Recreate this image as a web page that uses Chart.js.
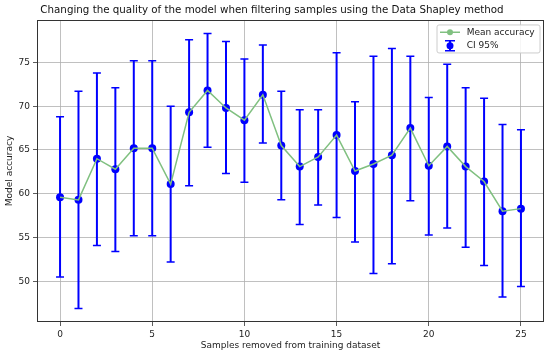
<!DOCTYPE html>
<html>
<head>
<meta charset="utf-8">
<script src="https://cdn.jsdelivr.net/npm/chart.js@4.4.0/dist/chart.umd.min.js"></script>
<style>
  html, body { margin: 0; padding: 0; background: #fff; }
  #wrap { width: 550px; height: 355px; }
</style>
</head>
<body>
<div id="wrap"><canvas id="chart"></canvas></div>
<script>
const samplesRemoved = [0, 1, 2, 3, 4, 5, 6, 7, 8, 9, 10, 11, 12, 13, 14, 15, 16, 17, 18, 19, 20, 21, 22, 23, 24, 25];
const meanAccuracy = [59.6, 59.3, 64.0, 62.8, 65.2, 65.2, 61.1, 69.3, 71.8, 69.8, 68.4, 71.3, 65.5, 63.1, 64.2, 66.7, 62.6, 63.4, 64.4, 67.5, 63.2, 65.4, 63.1, 61.4, 58.0, 58.3];
const ciLower = [50.5, 46.9, 54.1, 53.4, 55.2, 55.2, 52.2, 60.9, 65.3, 62.3, 61.3, 65.8, 59.3, 56.5, 58.7, 57.3, 54.5, 50.9, 52.0, 59.2, 55.3, 56.1, 53.9, 51.8, 48.2, 49.4];
const ciUpper = [68.8, 71.7, 73.8, 72.1, 75.2, 75.2, 70.0, 77.6, 78.3, 77.4, 75.4, 77.0, 71.7, 69.6, 69.6, 76.1, 70.5, 75.7, 76.6, 75.7, 71.0, 74.8, 72.1, 70.9, 67.9, 67.3];
const xTicks = [0, 5, 10, 15, 20, 25];
const yTicks = [50, 55, 60, 65, 70, 75];
const seriesLabels = ['Mean accuracy', 'CI 95%'];

const lineColor = '#80c080';
const dotColor = '#0000ff';

Chart.defaults.font.family = "'DejaVu Sans', sans-serif";
Chart.defaults.color = '#222';

const points = samplesRemoved.map((s, i) => ({ x: s, y: meanAccuracy[i] }));

// frame around the plot area (all four sides)
const frame = {
    id: 'frame',
    beforeDatasetsDraw(chart) {
        const { ctx, chartArea: a } = chart;
        ctx.save();
        ctx.strokeStyle = '#333';
        ctx.lineWidth = 1;
        ctx.strokeRect(Math.round(a.left) + 0.5, Math.round(a.top) + 0.5,
            Math.round(a.right - a.left) - 1, Math.round(a.bottom - a.top) - 1);
        ctx.restore();
    }
};

// vertical CI bars with caps, drawn just before the blue dots
const errorBars = {
    id: 'errorBars',
    beforeDatasetDraw(chart, args) {
        if (args.index !== 1) return;
        const { ctx, scales: { x, y } } = chart;
        ctx.save();
        ctx.strokeStyle = dotColor;
        samplesRemoved.forEach((s, i) => {
            const px = x.getPixelForValue(s);
            const top = y.getPixelForValue(ciUpper[i]);
            const bot = y.getPixelForValue(ciLower[i]);
            ctx.lineWidth = 2;
            ctx.beginPath();
            ctx.moveTo(px, top);
            ctx.lineTo(px, bot);
            ctx.stroke();
            ctx.lineWidth = 1.5;
            ctx.beginPath();
            ctx.moveTo(px - 4, top); ctx.lineTo(px + 4, top);
            ctx.moveTo(px - 4, bot); ctx.lineTo(px + 4, bot);
            ctx.stroke();
        });
        ctx.restore();
    }
};

// matplotlib style legend box in the upper right
const legendBox = {
    id: 'legendBox',
    afterDraw(chart) {
        const { ctx, chartArea: a } = chart;
        const w = 103, h = 28;
        const bx = a.right - 4 - w, by = a.top + 5;
        ctx.save();
        ctx.fillStyle = 'rgba(255,255,255,0.85)';
        ctx.strokeStyle = '#cccccc';
        ctx.lineWidth = 1;
        ctx.beginPath();
        ctx.roundRect(bx, by, w, h, 2);
        ctx.fill();
        ctx.stroke();

        // Mean accuracy
        const y1 = by + 7.3;
        ctx.strokeStyle = lineColor;
        ctx.lineWidth = 1.5;
        ctx.beginPath();
        ctx.moveTo(bx + 3, y1);
        ctx.lineTo(bx + 23, y1);
        ctx.stroke();
        ctx.fillStyle = lineColor;
        ctx.beginPath();
        ctx.arc(bx + 13, y1, 3, 0, Math.PI * 2);
        ctx.fill();

        // CI 95%
        const y2 = by + 20.7;
        const cx = bx + 13;
        ctx.strokeStyle = dotColor;
        ctx.lineWidth = 2;
        ctx.beginPath();
        ctx.moveTo(cx, y2 - 5); ctx.lineTo(cx, y2 + 5);
        ctx.stroke();
        ctx.lineWidth = 1.5;
        ctx.beginPath();
        ctx.moveTo(cx - 5, y2 - 5); ctx.lineTo(cx + 5, y2 - 5);
        ctx.moveTo(cx - 5, y2 + 5); ctx.lineTo(cx + 5, y2 + 5);
        ctx.stroke();
        ctx.fillStyle = dotColor;
        ctx.beginPath();
        ctx.arc(cx, y2, 3.5, 0, Math.PI * 2);
        ctx.fill();

        ctx.fillStyle = '#222';
        ctx.font = "9px 'DejaVu Sans'";
        ctx.textBaseline = 'middle';
        ctx.fillText(seriesLabels[0], bx + 29.7, y1);
        ctx.fillText(seriesLabels[1], bx + 29.7, y2);
        ctx.restore();
    }
};

new Chart(document.getElementById('chart'), {
    type: 'scatter',
    data: {
        datasets: [{
            label: seriesLabels[0],
            data: points,
            showLine: true,
            borderColor: lineColor,
            borderWidth: 1.5,
            pointRadius: 0,
            tension: 0
        }, {
            label: seriesLabels[1],
            data: points,
            showLine: false,
            pointRadius: 4,
            pointBackgroundColor: dotColor,
            pointBorderWidth: 0
        }]
    },
    options: {
        responsive: true,
        maintainAspectRatio: false,
        animation: false,
        layout: { padding: { left: 0, right: 6, top: 0, bottom: 0 } },
        plugins: {
            legend: { display: false },
            tooltip: { enabled: false },
            title: {
                display: true,
                text: 'Changing the quality of the model when filtering samples using the Data Shapley method',
                color: '#111',
                font: { size: 10.3, weight: 'normal' },
                padding: { top: 4.3, bottom: 3.3 }
            }
        },
        scales: {
            x: {
                type: 'linear',
                min: -1.25,
                max: 26.25,
                afterBuildTicks: axis => { axis.ticks = xTicks.map(v => ({ value: v })); },
                afterFit: axis => { axis.height = 33; },
                border: { display: false },
                grid: { color: '#b0b0b0', lineWidth: 0.8, tickColor: '#333', tickLength: 4 },
                ticks: { font: { size: 9 }, padding: 3, maxRotation: 0 },
                title: { display: true, text: 'Samples removed from training dataset', font: { size: 9 }, padding: { top: 0, bottom: 4 } }
            },
            y: {
                min: 45.35,
                max: 79.85,
                afterBuildTicks: axis => { axis.ticks = yTicks.map(v => ({ value: v })); },
                afterFit: axis => { axis.width = 37; },
                border: { display: false },
                grid: { color: '#b0b0b0', lineWidth: 0.8, tickColor: '#333', tickLength: 4 },
                ticks: { font: { size: 9 }, padding: 3 },
                title: { display: true, text: 'Model accuracy', font: { size: 9 }, padding: { top: 4, bottom: 0 } }
            }
        }
    },
    plugins: [frame, errorBars, legendBox]
});
</script>
</body>
</html>
